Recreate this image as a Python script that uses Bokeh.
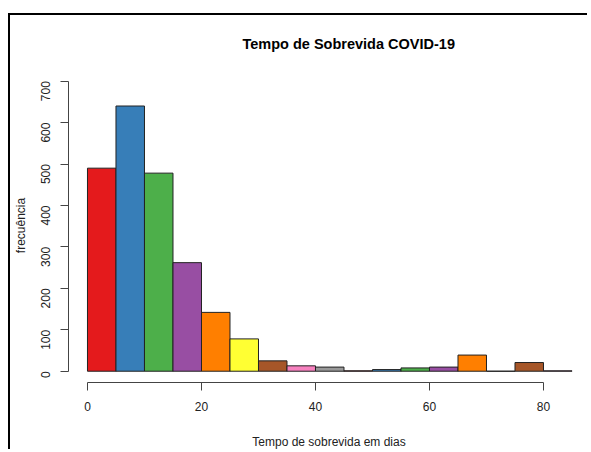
import math
from bokeh.plotting import figure
from bokeh.models import Range1d, FixedTicker
from bokeh.embed import file_html
from bokeh.resources import INLINE

# --- data (bins of width 5 days) ---
bin_left = [0, 5, 10, 15, 20, 25, 30, 35, 40, 45, 50, 55, 60, 65, 70, 75, 80]
bin_right = [5, 10, 15, 20, 25, 30, 35, 40, 45, 50, 55, 60, 65, 70, 75, 80, 85]
counts = [490, 640, 478, 262, 142, 78, 25, 13, 10, 1, 4, 8, 10, 39, 0, 21, 1]
set1 = ["#E41A1C", "#377EB8", "#4DAF4A", "#984EA3", "#FF7F00",
        "#FFFF33", "#A65628", "#F781BF", "#999999"]
bar_colors = [set1[i % len(set1)] for i in range(len(counts))]
x_ticks = [0, 20, 40, 60, 80]
y_ticks = [0, 100, 200, 300, 400, 500, 600, 700]

FONT = "Liberation Sans"

W, H = 579, 436
p = figure(width=W, height=H,
           x_range=Range1d(-3.33, (10 + W - 87) / 5.7), y_range=Range1d(-27.2, 730.5),
           output_backend="svg", toolbar_location=None,
           min_border_left=58, min_border_right=0,
           min_border_top=53, min_border_bottom=H - 368,
           title="Tempo de Sobrevida COVID-19")
p.styles = {"border-top": "2px solid black", "border-left": "2px solid black",
            "margin-top": "13px", "margin-left": "8px"}

p.quad(left=bin_left, right=bin_right, bottom=0, top=counts,
       fill_color=bar_colors, line_color="#222222", line_width=1)

p.outline_line_color = None
p.xgrid.visible = False
p.ygrid.visible = False
p.background_fill_color = "white"
p.border_fill_color = "white"

p.title.text_font = FONT
p.title.text_font_size = "14.5px"
p.title.text_font_style = "bold"
p.title.text_color = "black"
p.title.align = "left"
p.title.offset = 174
p.title.standoff = 34

for ax in (p.xaxis[0], p.yaxis[0]):
    ax.axis_line_color = "#444444"
    ax.major_tick_line_color = "#444444"
    ax.major_tick_out = 8
    ax.major_tick_in = 0
    ax.minor_tick_line_color = None
    ax.major_label_text_font = FONT
    ax.major_label_text_font_size = "12px"
    ax.major_label_text_color = "#222222"
    ax.axis_label_text_font = FONT
    ax.axis_label_text_font_size = "12px"
    ax.axis_label_text_font_style = "normal"
    ax.axis_label_text_color = "#222222"

p.xaxis.ticker = FixedTicker(ticks=x_ticks)
p.xaxis.bounds = (0, 80)
p.xaxis.major_label_standoff = 11
p.xaxis.axis_label = "Tempo de sobrevida em dias"
p.xaxis.axis_label_standoff = 21

p.yaxis.ticker = FixedTicker(ticks=y_ticks)
p.yaxis.bounds = (0, 700)
p.yaxis.major_label_orientation = math.pi / 2
p.yaxis.major_label_standoff = 15
p.yaxis.axis_label = "frecuência"
p.yaxis.axis_label_standoff = 6

open("out.html", "w").write(file_html(p, INLINE))
